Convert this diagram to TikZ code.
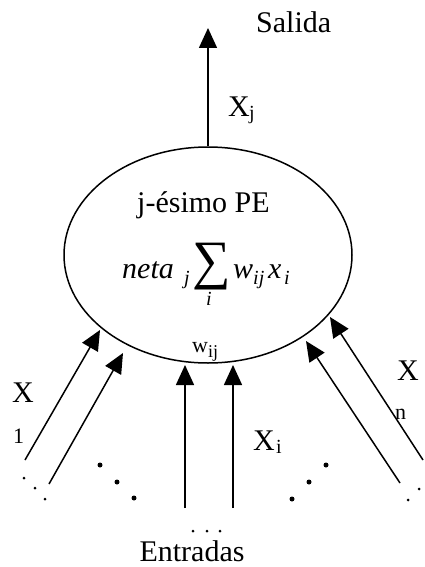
\documentclass[tikz,border=0pt]{standalone}
\usepackage{fontspec}
\setmainfont{Liberation Serif}
\usetikzlibrary{arrows.meta,shapes.geometric}
\begin{document}
\begin{tikzpicture}[x=1pt,y=-1pt,
  big/.style={font=\fontsize{30}{36}\selectfont, inner sep=0pt, anchor=base west},
  mid/.style={font=\fontsize{22}{26}\selectfont, inner sep=0pt, anchor=base west},
  sub/.style={font=\fontsize{20}{24}\selectfont, inner sep=0pt, anchor=base west},
  conn/.style={line width=1.5pt, -{Triangle[length=20pt,width=18pt]}},
  dotS/.style={fill, circle, inner sep=0pt, minimum size=3pt},
  dotL/.style={fill, circle, inner sep=0pt, minimum size=5pt}]
\useasboundingbox (0,0) rectangle (424,567);
\node[draw, ellipse, line width=1.5pt, minimum width=288pt, minimum height=216pt, inner sep=0pt] (pe) at (208,255) {};
% output
\coordinate (out) at (208,28);
\draw[conn] (pe.north) -- (out);
\node[big] (salida) at (256,33) {Salida};
\node[big] (xj) at (228,117) {X};
\node[sub] (xjs) at (249,120) {j};
% inside
\node[big] (pelabel) at (137,212) {j-ésimo PE};
\node[big] (neta) at (122,278) {\itshape neta};
\node[sub] (netaj) at (184,284) {\itshape j};
\node[font=\fontsize{54}{58}\selectfont, inner sep=0pt] (sum) at (212,267) {∑};
\node[sub] (sumi) at (206,305) {\itshape i};
\node[big] (w) at (233,278) {\itshape w};
\node[sub] (wij) at (253,284) {\itshape ij};
\node[big] (x) at (268,278) {\itshape x};
\node[sub] (xi) at (284,284) {\itshape i};
% inputs
\coordinate (s1) at (25,460);  \coordinate (t1) at (100,330);
\coordinate (s2) at (49,484);  \coordinate (t2) at (123,353);
\coordinate (s3) at (185,508); \coordinate (t3) at (185,365);
\coordinate (s4) at (233,508); \coordinate (t4) at (233,365);
\coordinate (s5) at (400,483); \coordinate (t5) at (306,341);
\coordinate (s6) at (423,460); \coordinate (t6) at (330,317);
\foreach \k in {1,...,6} {\draw[conn] (s\k) -- (t\k);}
% labels
\node[mid] (wl) at (192,352) {w};
\node[font=\fontsize{18}{22}\selectfont, inner sep=0pt, anchor=base west] (wls) at (208,357) {ij};
\node[big] (x1) at (12,402) {X};
\node[mid] (x1s) at (13,443) {1};
\node[big] (xil) at (253,450) {X};
\node[sub] (xils) at (276,453) {i};
\node[big] (xn) at (397,380) {X};
\node[mid] (xns) at (395,419) {n};
% dots
\node[dotS] (d1) at (24,478) {};
\node[dotS] (d2) at (35,488) {};
\node[dotS] (d3) at (45,499) {};
\node[dotL] (d4) at (100,465) {};
\node[dotL] (d5) at (117,482) {};
\node[dotL] (d6) at (134,498) {};
\node[dotL] (d7) at (326,465) {};
\node[dotL] (d8) at (309,482) {};
\node[dotL] (d9) at (292,499) {};
\node[dotS] (d10) at (419,489) {};
\node[dotS] (d11) at (408,500) {};
\node[dotS] (d12) at (193,531) {};
\node[dotS] (d13) at (207,531) {};
\node[dotS] (d14) at (220,531) {};
\node[big, anchor=base] (entradas) at (192,561) {Entradas};
\end{tikzpicture}
\end{document}
